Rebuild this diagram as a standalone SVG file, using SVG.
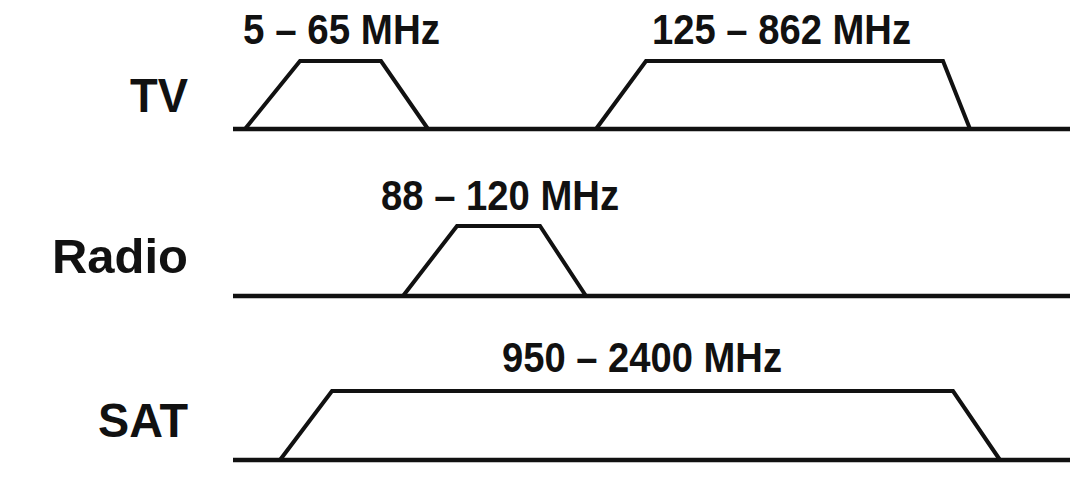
<svg xmlns="http://www.w3.org/2000/svg" width="1080" height="479" viewBox="0 0 1080 479">
<style>
.base{stroke:#111;stroke-width:4.5;fill:none}
.band{stroke:#111;stroke-width:4;fill:none;stroke-linejoin:miter}
.lbl{font-family:"Liberation Sans",Arial,sans-serif;font-weight:bold;font-size:49px;fill:#111;text-anchor:end}
.frq{font-family:"Liberation Sans",Arial,sans-serif;font-weight:bold;font-size:42px;fill:#111}
</style>
<rect width="1080" height="479" fill="#fff"/>
<g id="tv">
<text class="lbl" x="188" y="112" textLength="58" lengthAdjust="spacingAndGlyphs">TV</text>
<text class="frq" x="243" y="44" textLength="197" lengthAdjust="spacingAndGlyphs">5 – 65 MHz</text>
<text class="frq" x="652" y="44" textLength="259" lengthAdjust="spacingAndGlyphs">125 – 862 MHz</text>
</g>
<g id="radio">
<text class="lbl" x="188" y="273" textLength="136" lengthAdjust="spacingAndGlyphs">Radio</text>
<text class="frq" x="381" y="210" textLength="238" lengthAdjust="spacingAndGlyphs">88 – 120 MHz</text>
</g>
<g id="sat">
<text class="lbl" x="188" y="437" textLength="90" lengthAdjust="spacingAndGlyphs">SAT</text>
<text class="frq" x="502" y="372" textLength="280" lengthAdjust="spacingAndGlyphs">950 – 2400 MHz</text>
</g>
<g id="connectors">
<line class="base" x1="233" y1="129" x2="1070" y2="129"/>
<polyline class="band" points="245,129 300,61 381,61 428,129"/>
<polyline class="band" points="596,129 646,61 943,61 970,129"/>
<line class="base" x1="233" y1="296" x2="1070" y2="296"/>
<polyline class="band" points="403,296 457,226 540,226 586,296"/>
<line class="base" x1="233" y1="460" x2="1070" y2="460"/>
<polyline class="band" points="280,460 332,391 953,391 1000,460"/>
</g>
</svg>
